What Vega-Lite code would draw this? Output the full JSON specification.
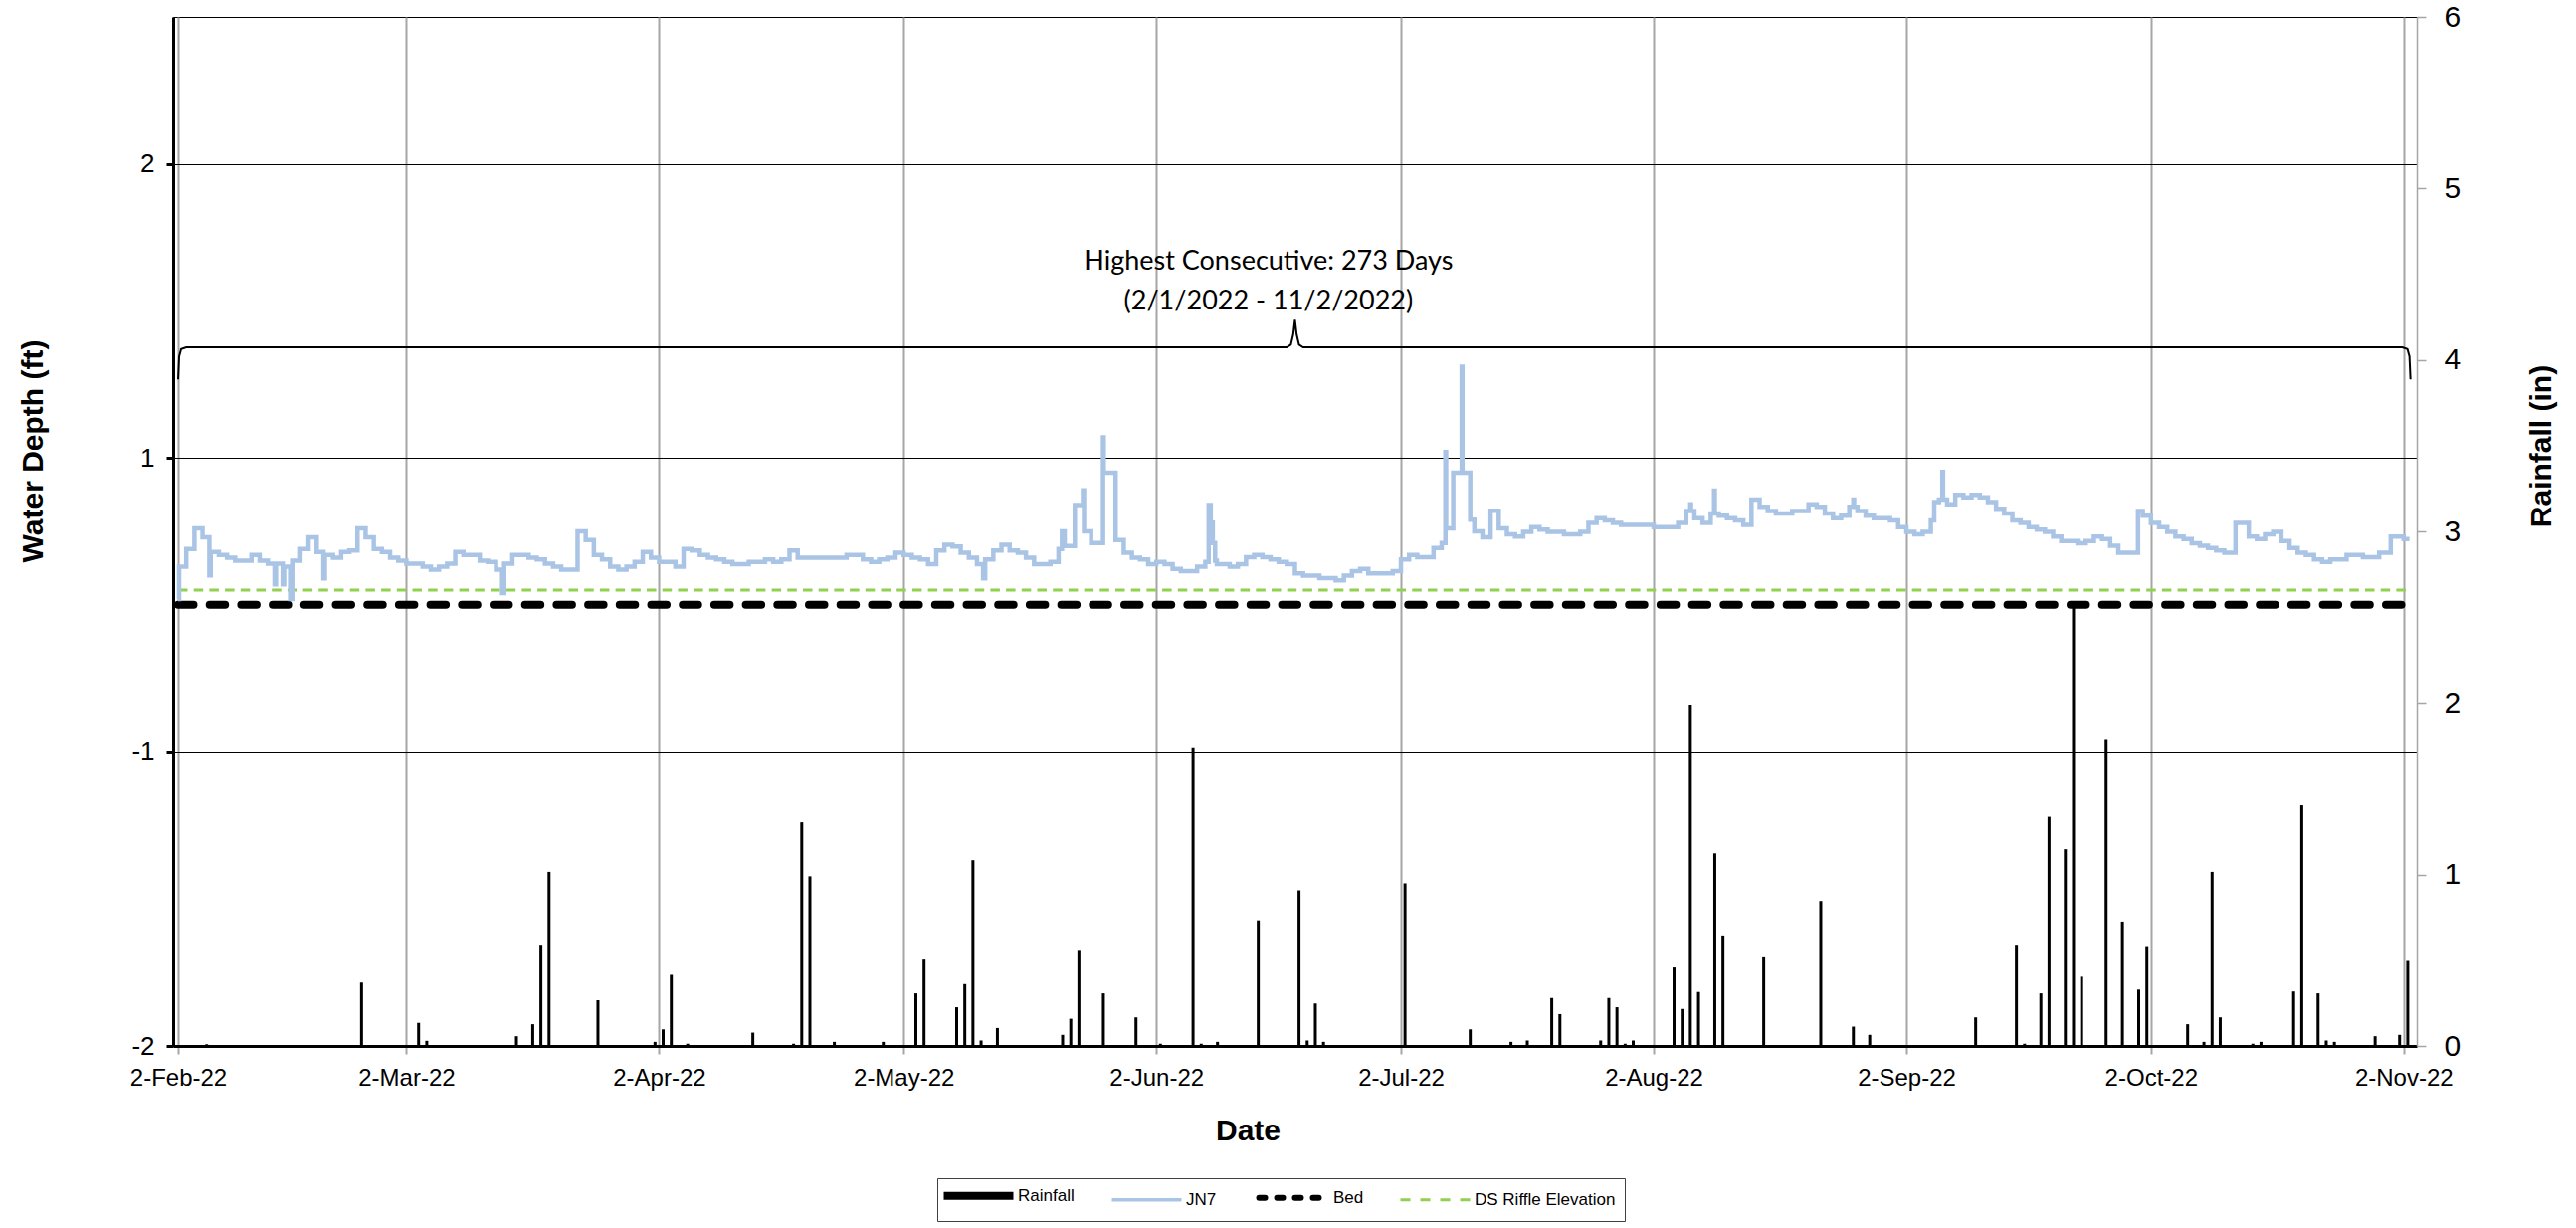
{
  "$schema": "https://vega.github.io/schema/vega-lite/v6.json",
  "width": 2255,
  "height": 1034,
  "autosize": {"type": "none"},
  "padding": {"left": 174, "top": 17, "right": 160, "bottom": 183},
  "background": "white",
  "config": {
    "view": {"stroke": "black", "strokeWidth": 1},
    "font": "Liberation Sans"
  },
  "datasets": {
    "rain": [
      {"date": "2022-02-05T12:00:00", "rain": 0.01},
      {"date": "2022-02-24T12:00:00", "rain": 0.37},
      {"date": "2022-03-03T12:00:00", "rain": 0.135},
      {"date": "2022-03-04T12:00:00", "rain": 0.03},
      {"date": "2022-03-15T12:00:00", "rain": 0.057},
      {"date": "2022-03-16T12:00:00", "rain": 0.005},
      {"date": "2022-03-17T12:00:00", "rain": 0.127},
      {"date": "2022-03-18T12:00:00", "rain": 0.585},
      {"date": "2022-03-19T12:00:00", "rain": 1.016},
      {"date": "2022-03-22T12:00:00", "rain": 0.005},
      {"date": "2022-03-25T12:00:00", "rain": 0.267},
      {"date": "2022-04-01T12:00:00", "rain": 0.024},
      {"date": "2022-04-02T12:00:00", "rain": 0.097},
      {"date": "2022-04-03T12:00:00", "rain": 0.415},
      {"date": "2022-04-05T12:00:00", "rain": 0.013},
      {"date": "2022-04-13T12:00:00", "rain": 0.078},
      {"date": "2022-04-18T12:00:00", "rain": 0.013},
      {"date": "2022-04-19T12:00:00", "rain": 1.305},
      {"date": "2022-04-20T12:00:00", "rain": 0.99},
      {"date": "2022-04-23T12:00:00", "rain": 0.024},
      {"date": "2022-04-29T12:00:00", "rain": 0.024},
      {"date": "2022-05-03T12:00:00", "rain": 0.307},
      {"date": "2022-05-04T12:00:00", "rain": 0.504},
      {"date": "2022-05-08T12:00:00", "rain": 0.226},
      {"date": "2022-05-09T12:00:00", "rain": 0.361},
      {"date": "2022-05-10T12:00:00", "rain": 1.084},
      {"date": "2022-05-11T12:00:00", "rain": 0.032},
      {"date": "2022-05-12T12:00:00", "rain": 0.005},
      {"date": "2022-05-13T12:00:00", "rain": 0.105},
      {"date": "2022-05-21T12:00:00", "rain": 0.065},
      {"date": "2022-05-22T12:00:00", "rain": 0.159},
      {"date": "2022-05-23T12:00:00", "rain": 0.555},
      {"date": "2022-05-26T12:00:00", "rain": 0.307},
      {"date": "2022-05-30T12:00:00", "rain": 0.167},
      {"date": "2022-06-02T12:00:00", "rain": 0.013},
      {"date": "2022-06-06T12:00:00", "rain": 1.736},
      {"date": "2022-06-07T12:00:00", "rain": 0.013},
      {"date": "2022-06-09T12:00:00", "rain": 0.024},
      {"date": "2022-06-14T12:00:00", "rain": 0.733},
      {"date": "2022-06-15T12:00:00", "rain": 0.005},
      {"date": "2022-06-19T12:00:00", "rain": 0.908},
      {"date": "2022-06-20T12:00:00", "rain": 0.032},
      {"date": "2022-06-21T12:00:00", "rain": 0.248},
      {"date": "2022-06-22T12:00:00", "rain": 0.024},
      {"date": "2022-06-30T12:00:00", "rain": 0.005},
      {"date": "2022-07-02T12:00:00", "rain": 0.949},
      {"date": "2022-07-10T12:00:00", "rain": 0.097},
      {"date": "2022-07-14T12:00:00", "rain": 0.005},
      {"date": "2022-07-15T12:00:00", "rain": 0.024},
      {"date": "2022-07-17T12:00:00", "rain": 0.032},
      {"date": "2022-07-20T12:00:00", "rain": 0.28},
      {"date": "2022-07-21T12:00:00", "rain": 0.186},
      {"date": "2022-07-26T12:00:00", "rain": 0.032},
      {"date": "2022-07-27T12:00:00", "rain": 0.28},
      {"date": "2022-07-28T12:00:00", "rain": 0.226},
      {"date": "2022-07-29T12:00:00", "rain": 0.013},
      {"date": "2022-07-30T12:00:00", "rain": 0.032},
      {"date": "2022-08-04T12:00:00", "rain": 0.458},
      {"date": "2022-08-05T12:00:00", "rain": 0.216},
      {"date": "2022-08-06T12:00:00", "rain": 1.99},
      {"date": "2022-08-07T12:00:00", "rain": 0.315},
      {"date": "2022-08-09T12:00:00", "rain": 1.124},
      {"date": "2022-08-10T12:00:00", "rain": 0.639},
      {"date": "2022-08-15T12:00:00", "rain": 0.517},
      {"date": "2022-08-16T12:00:00", "rain": 0.005},
      {"date": "2022-08-21T12:00:00", "rain": 0.005},
      {"date": "2022-08-22T12:00:00", "rain": 0.846},
      {"date": "2022-08-26T12:00:00", "rain": 0.113},
      {"date": "2022-08-28T12:00:00", "rain": 0.065},
      {"date": "2022-09-09T12:00:00", "rain": 0.005},
      {"date": "2022-09-10T12:00:00", "rain": 0.167},
      {"date": "2022-09-15T12:00:00", "rain": 0.585},
      {"date": "2022-09-16T12:00:00", "rain": 0.013},
      {"date": "2022-09-18T12:00:00", "rain": 0.307},
      {"date": "2022-09-19T12:00:00", "rain": 1.337},
      {"date": "2022-09-21T12:00:00", "rain": 1.148},
      {"date": "2022-09-22T12:00:00", "rain": 2.593},
      {"date": "2022-09-23T12:00:00", "rain": 0.404},
      {"date": "2022-09-26T12:00:00", "rain": 1.784},
      {"date": "2022-09-28T12:00:00", "rain": 0.72},
      {"date": "2022-09-30T12:00:00", "rain": 0.329},
      {"date": "2022-10-01T12:00:00", "rain": 0.577},
      {"date": "2022-10-06T12:00:00", "rain": 0.127},
      {"date": "2022-10-08T12:00:00", "rain": 0.024},
      {"date": "2022-10-09T12:00:00", "rain": 1.016},
      {"date": "2022-10-10T12:00:00", "rain": 0.167},
      {"date": "2022-10-12T12:00:00", "rain": 0.005},
      {"date": "2022-10-14T12:00:00", "rain": 0.013},
      {"date": "2022-10-15T12:00:00", "rain": 0.024},
      {"date": "2022-10-19T12:00:00", "rain": 0.318},
      {"date": "2022-10-20T12:00:00", "rain": 1.404},
      {"date": "2022-10-22T12:00:00", "rain": 0.307},
      {"date": "2022-10-23T12:00:00", "rain": 0.032},
      {"date": "2022-10-24T12:00:00", "rain": 0.024},
      {"date": "2022-10-29T12:00:00", "rain": 0.057},
      {"date": "2022-10-31T12:00:00", "rain": 0.005},
      {"date": "2022-11-01T12:00:00", "rain": 0.065},
      {"date": "2022-11-02T12:00:00", "rain": 0.496}
    ],
    "jn7": [
      {"date": "2022-02-02T00:00:00", "ft": 0.02},
      {"date": "2022-02-02T03:00:00", "ft": 0.13},
      {"date": "2022-02-03T00:00:00", "ft": 0.19},
      {"date": "2022-02-04T00:00:00", "ft": 0.26},
      {"date": "2022-02-05T00:00:00", "ft": 0.23},
      {"date": "2022-02-05T20:00:00", "ft": 0.10},
      {"date": "2022-02-06T00:00:00", "ft": 0.18},
      {"date": "2022-02-07T00:00:00", "ft": 0.17},
      {"date": "2022-02-08T00:00:00", "ft": 0.16},
      {"date": "2022-02-09T00:00:00", "ft": 0.15},
      {"date": "2022-02-10T00:00:00", "ft": 0.15},
      {"date": "2022-02-11T00:00:00", "ft": 0.17},
      {"date": "2022-02-12T00:00:00", "ft": 0.15},
      {"date": "2022-02-13T00:00:00", "ft": 0.14},
      {"date": "2022-02-13T20:00:00", "ft": 0.07},
      {"date": "2022-02-14T00:00:00", "ft": 0.14},
      {"date": "2022-02-14T20:00:00", "ft": 0.07},
      {"date": "2022-02-15T00:00:00", "ft": 0.13},
      {"date": "2022-02-15T18:00:00", "ft": 0.02},
      {"date": "2022-02-16T00:00:00", "ft": 0.15},
      {"date": "2022-02-17T00:00:00", "ft": 0.19},
      {"date": "2022-02-18T00:00:00", "ft": 0.23},
      {"date": "2022-02-19T00:00:00", "ft": 0.18},
      {"date": "2022-02-19T20:00:00", "ft": 0.09},
      {"date": "2022-02-20T00:00:00", "ft": 0.17},
      {"date": "2022-02-21T00:00:00", "ft": 0.16},
      {"date": "2022-02-22T00:00:00", "ft": 0.18},
      {"date": "2022-02-23T00:00:00", "ft": 0.185},
      {"date": "2022-02-24T00:00:00", "ft": 0.26},
      {"date": "2022-02-25T00:00:00", "ft": 0.23},
      {"date": "2022-02-26T00:00:00", "ft": 0.19},
      {"date": "2022-02-27T00:00:00", "ft": 0.18},
      {"date": "2022-02-28T00:00:00", "ft": 0.16},
      {"date": "2022-03-01T00:00:00", "ft": 0.15},
      {"date": "2022-03-02T00:00:00", "ft": 0.14},
      {"date": "2022-03-03T00:00:00", "ft": 0.14},
      {"date": "2022-03-04T00:00:00", "ft": 0.13},
      {"date": "2022-03-05T00:00:00", "ft": 0.12},
      {"date": "2022-03-06T00:00:00", "ft": 0.13},
      {"date": "2022-03-07T00:00:00", "ft": 0.14},
      {"date": "2022-03-08T00:00:00", "ft": 0.18},
      {"date": "2022-03-09T00:00:00", "ft": 0.17},
      {"date": "2022-03-10T00:00:00", "ft": 0.17},
      {"date": "2022-03-11T00:00:00", "ft": 0.15},
      {"date": "2022-03-12T00:00:00", "ft": 0.146},
      {"date": "2022-03-13T00:00:00", "ft": 0.12},
      {"date": "2022-03-13T18:00:00", "ft": 0.04},
      {"date": "2022-03-14T00:00:00", "ft": 0.14},
      {"date": "2022-03-15T00:00:00", "ft": 0.17},
      {"date": "2022-03-16T00:00:00", "ft": 0.17},
      {"date": "2022-03-17T00:00:00", "ft": 0.16},
      {"date": "2022-03-18T00:00:00", "ft": 0.154},
      {"date": "2022-03-19T00:00:00", "ft": 0.14},
      {"date": "2022-03-20T00:00:00", "ft": 0.13},
      {"date": "2022-03-21T00:00:00", "ft": 0.12},
      {"date": "2022-03-22T00:00:00", "ft": 0.12},
      {"date": "2022-03-23T00:00:00", "ft": 0.25},
      {"date": "2022-03-24T00:00:00", "ft": 0.22},
      {"date": "2022-03-25T00:00:00", "ft": 0.17},
      {"date": "2022-03-26T00:00:00", "ft": 0.154},
      {"date": "2022-03-27T00:00:00", "ft": 0.13},
      {"date": "2022-03-28T00:00:00", "ft": 0.12},
      {"date": "2022-03-29T00:00:00", "ft": 0.13},
      {"date": "2022-03-30T00:00:00", "ft": 0.146},
      {"date": "2022-03-31T00:00:00", "ft": 0.18},
      {"date": "2022-04-01T00:00:00", "ft": 0.16},
      {"date": "2022-04-02T00:00:00", "ft": 0.146},
      {"date": "2022-04-03T00:00:00", "ft": 0.146},
      {"date": "2022-04-04T00:00:00", "ft": 0.13},
      {"date": "2022-04-05T00:00:00", "ft": 0.19},
      {"date": "2022-04-06T00:00:00", "ft": 0.185},
      {"date": "2022-04-07T00:00:00", "ft": 0.17},
      {"date": "2022-04-08T00:00:00", "ft": 0.16},
      {"date": "2022-04-09T00:00:00", "ft": 0.154},
      {"date": "2022-04-10T00:00:00", "ft": 0.146},
      {"date": "2022-04-11T00:00:00", "ft": 0.138},
      {"date": "2022-04-12T00:00:00", "ft": 0.138},
      {"date": "2022-04-13T00:00:00", "ft": 0.146},
      {"date": "2022-04-14T00:00:00", "ft": 0.146},
      {"date": "2022-04-15T00:00:00", "ft": 0.154},
      {"date": "2022-04-16T00:00:00", "ft": 0.146},
      {"date": "2022-04-17T00:00:00", "ft": 0.154},
      {"date": "2022-04-18T00:00:00", "ft": 0.185},
      {"date": "2022-04-19T00:00:00", "ft": 0.16},
      {"date": "2022-04-20T00:00:00", "ft": 0.16},
      {"date": "2022-04-21T00:00:00", "ft": 0.16},
      {"date": "2022-04-22T00:00:00", "ft": 0.16},
      {"date": "2022-04-23T00:00:00", "ft": 0.16},
      {"date": "2022-04-24T00:00:00", "ft": 0.16},
      {"date": "2022-04-25T00:00:00", "ft": 0.17},
      {"date": "2022-04-26T00:00:00", "ft": 0.17},
      {"date": "2022-04-27T00:00:00", "ft": 0.154},
      {"date": "2022-04-28T00:00:00", "ft": 0.146},
      {"date": "2022-04-29T00:00:00", "ft": 0.154},
      {"date": "2022-04-30T00:00:00", "ft": 0.16},
      {"date": "2022-05-01T00:00:00", "ft": 0.177},
      {"date": "2022-05-02T00:00:00", "ft": 0.17},
      {"date": "2022-05-03T00:00:00", "ft": 0.16},
      {"date": "2022-05-04T00:00:00", "ft": 0.154},
      {"date": "2022-05-05T00:00:00", "ft": 0.138},
      {"date": "2022-05-06T00:00:00", "ft": 0.185},
      {"date": "2022-05-07T00:00:00", "ft": 0.204},
      {"date": "2022-05-08T00:00:00", "ft": 0.198},
      {"date": "2022-05-09T00:00:00", "ft": 0.177},
      {"date": "2022-05-10T00:00:00", "ft": 0.16},
      {"date": "2022-05-11T00:00:00", "ft": 0.138},
      {"date": "2022-05-11T18:00:00", "ft": 0.09},
      {"date": "2022-05-12T00:00:00", "ft": 0.154},
      {"date": "2022-05-13T00:00:00", "ft": 0.185},
      {"date": "2022-05-14T00:00:00", "ft": 0.204},
      {"date": "2022-05-15T00:00:00", "ft": 0.185},
      {"date": "2022-05-16T00:00:00", "ft": 0.177},
      {"date": "2022-05-17T00:00:00", "ft": 0.16},
      {"date": "2022-05-18T00:00:00", "ft": 0.138},
      {"date": "2022-05-19T00:00:00", "ft": 0.138},
      {"date": "2022-05-20T00:00:00", "ft": 0.146},
      {"date": "2022-05-21T00:00:00", "ft": 0.19},
      {"date": "2022-05-21T10:00:00", "ft": 0.25},
      {"date": "2022-05-21T18:00:00", "ft": 0.2},
      {"date": "2022-05-22T00:00:00", "ft": 0.2},
      {"date": "2022-05-23T00:00:00", "ft": 0.34},
      {"date": "2022-05-24T00:00:00", "ft": 0.39},
      {"date": "2022-05-24T03:00:00", "ft": 0.25},
      {"date": "2022-05-25T00:00:00", "ft": 0.21},
      {"date": "2022-05-26T00:00:00", "ft": 0.21},
      {"date": "2022-05-26T11:00:00", "ft": 0.57},
      {"date": "2022-05-26T13:00:00", "ft": 0.45},
      {"date": "2022-05-27T00:00:00", "ft": 0.45},
      {"date": "2022-05-28T00:00:00", "ft": 0.22},
      {"date": "2022-05-29T00:00:00", "ft": 0.177},
      {"date": "2022-05-30T00:00:00", "ft": 0.16},
      {"date": "2022-05-31T00:00:00", "ft": 0.154},
      {"date": "2022-06-01T00:00:00", "ft": 0.138},
      {"date": "2022-06-02T00:00:00", "ft": 0.146},
      {"date": "2022-06-03T00:00:00", "ft": 0.138},
      {"date": "2022-06-04T00:00:00", "ft": 0.122},
      {"date": "2022-06-05T00:00:00", "ft": 0.115},
      {"date": "2022-06-06T00:00:00", "ft": 0.115},
      {"date": "2022-06-07T00:00:00", "ft": 0.13},
      {"date": "2022-06-08T00:00:00", "ft": 0.146},
      {"date": "2022-06-08T10:00:00", "ft": 0.34},
      {"date": "2022-06-08T16:00:00", "ft": 0.28},
      {"date": "2022-06-08T22:00:00", "ft": 0.21},
      {"date": "2022-06-09T05:00:00", "ft": 0.15},
      {"date": "2022-06-09T10:00:00", "ft": 0.138},
      {"date": "2022-06-10T00:00:00", "ft": 0.138},
      {"date": "2022-06-11T00:00:00", "ft": 0.13},
      {"date": "2022-06-12T00:00:00", "ft": 0.138},
      {"date": "2022-06-13T00:00:00", "ft": 0.162},
      {"date": "2022-06-14T00:00:00", "ft": 0.17},
      {"date": "2022-06-15T00:00:00", "ft": 0.162},
      {"date": "2022-06-16T00:00:00", "ft": 0.154},
      {"date": "2022-06-17T00:00:00", "ft": 0.146},
      {"date": "2022-06-18T00:00:00", "ft": 0.138},
      {"date": "2022-06-19T00:00:00", "ft": 0.107},
      {"date": "2022-06-20T00:00:00", "ft": 0.099},
      {"date": "2022-06-21T00:00:00", "ft": 0.099},
      {"date": "2022-06-22T00:00:00", "ft": 0.091},
      {"date": "2022-06-23T00:00:00", "ft": 0.091},
      {"date": "2022-06-24T00:00:00", "ft": 0.083},
      {"date": "2022-06-25T00:00:00", "ft": 0.099},
      {"date": "2022-06-26T00:00:00", "ft": 0.115},
      {"date": "2022-06-27T00:00:00", "ft": 0.122},
      {"date": "2022-06-28T00:00:00", "ft": 0.107},
      {"date": "2022-06-29T00:00:00", "ft": 0.107},
      {"date": "2022-06-30T00:00:00", "ft": 0.107},
      {"date": "2022-07-01T00:00:00", "ft": 0.115},
      {"date": "2022-07-02T00:00:00", "ft": 0.154},
      {"date": "2022-07-03T00:00:00", "ft": 0.17},
      {"date": "2022-07-04T00:00:00", "ft": 0.162},
      {"date": "2022-07-05T00:00:00", "ft": 0.162},
      {"date": "2022-07-06T00:00:00", "ft": 0.193},
      {"date": "2022-07-07T00:00:00", "ft": 0.21},
      {"date": "2022-07-07T11:00:00", "ft": 0.52},
      {"date": "2022-07-07T13:00:00", "ft": 0.26},
      {"date": "2022-07-08T00:00:00", "ft": 0.26},
      {"date": "2022-07-08T10:00:00", "ft": 0.45},
      {"date": "2022-07-09T00:00:00", "ft": 0.45},
      {"date": "2022-07-09T11:00:00", "ft": 0.81},
      {"date": "2022-07-09T13:00:00", "ft": 0.45},
      {"date": "2022-07-10T12:00:00", "ft": 0.29},
      {"date": "2022-07-11T00:00:00", "ft": 0.25},
      {"date": "2022-07-12T00:00:00", "ft": 0.23},
      {"date": "2022-07-13T00:00:00", "ft": 0.32},
      {"date": "2022-07-14T00:00:00", "ft": 0.26},
      {"date": "2022-07-15T00:00:00", "ft": 0.24},
      {"date": "2022-07-16T00:00:00", "ft": 0.232},
      {"date": "2022-07-17T00:00:00", "ft": 0.248},
      {"date": "2022-07-18T00:00:00", "ft": 0.264},
      {"date": "2022-07-19T00:00:00", "ft": 0.256},
      {"date": "2022-07-20T00:00:00", "ft": 0.248},
      {"date": "2022-07-21T00:00:00", "ft": 0.248},
      {"date": "2022-07-22T00:00:00", "ft": 0.24},
      {"date": "2022-07-23T00:00:00", "ft": 0.24},
      {"date": "2022-07-24T00:00:00", "ft": 0.248},
      {"date": "2022-07-25T00:00:00", "ft": 0.279},
      {"date": "2022-07-26T00:00:00", "ft": 0.295},
      {"date": "2022-07-27T00:00:00", "ft": 0.287},
      {"date": "2022-07-28T00:00:00", "ft": 0.279},
      {"date": "2022-07-29T00:00:00", "ft": 0.272},
      {"date": "2022-07-30T00:00:00", "ft": 0.272},
      {"date": "2022-07-31T00:00:00", "ft": 0.272},
      {"date": "2022-08-01T00:00:00", "ft": 0.272},
      {"date": "2022-08-02T00:00:00", "ft": 0.264},
      {"date": "2022-08-03T00:00:00", "ft": 0.264},
      {"date": "2022-08-04T00:00:00", "ft": 0.264},
      {"date": "2022-08-05T00:00:00", "ft": 0.279},
      {"date": "2022-08-06T00:00:00", "ft": 0.319},
      {"date": "2022-08-06T12:00:00", "ft": 0.342},
      {"date": "2022-08-06T14:00:00", "ft": 0.319},
      {"date": "2022-08-07T00:00:00", "ft": 0.295},
      {"date": "2022-08-08T00:00:00", "ft": 0.279},
      {"date": "2022-08-09T00:00:00", "ft": 0.311},
      {"date": "2022-08-09T10:00:00", "ft": 0.389},
      {"date": "2022-08-09T12:00:00", "ft": 0.311},
      {"date": "2022-08-10T00:00:00", "ft": 0.303},
      {"date": "2022-08-11T00:00:00", "ft": 0.295},
      {"date": "2022-08-12T00:00:00", "ft": 0.287},
      {"date": "2022-08-13T00:00:00", "ft": 0.272},
      {"date": "2022-08-14T00:00:00", "ft": 0.358},
      {"date": "2022-08-15T00:00:00", "ft": 0.334},
      {"date": "2022-08-16T00:00:00", "ft": 0.319},
      {"date": "2022-08-17T00:00:00", "ft": 0.311},
      {"date": "2022-08-18T00:00:00", "ft": 0.311},
      {"date": "2022-08-19T00:00:00", "ft": 0.319},
      {"date": "2022-08-20T00:00:00", "ft": 0.319},
      {"date": "2022-08-21T00:00:00", "ft": 0.342},
      {"date": "2022-08-22T00:00:00", "ft": 0.334},
      {"date": "2022-08-23T00:00:00", "ft": 0.311},
      {"date": "2022-08-24T00:00:00", "ft": 0.295},
      {"date": "2022-08-25T00:00:00", "ft": 0.303},
      {"date": "2022-08-26T00:00:00", "ft": 0.334},
      {"date": "2022-08-26T12:00:00", "ft": 0.358},
      {"date": "2022-08-26T14:00:00", "ft": 0.334},
      {"date": "2022-08-27T00:00:00", "ft": 0.319},
      {"date": "2022-08-28T00:00:00", "ft": 0.303},
      {"date": "2022-08-29T00:00:00", "ft": 0.295},
      {"date": "2022-08-30T00:00:00", "ft": 0.295},
      {"date": "2022-08-31T00:00:00", "ft": 0.287},
      {"date": "2022-09-01T00:00:00", "ft": 0.264},
      {"date": "2022-09-02T00:00:00", "ft": 0.248},
      {"date": "2022-09-03T00:00:00", "ft": 0.24},
      {"date": "2022-09-04T00:00:00", "ft": 0.248},
      {"date": "2022-09-05T00:00:00", "ft": 0.287},
      {"date": "2022-09-05T10:00:00", "ft": 0.35},
      {"date": "2022-09-06T00:00:00", "ft": 0.358},
      {"date": "2022-09-06T10:00:00", "ft": 0.452},
      {"date": "2022-09-06T12:00:00", "ft": 0.358},
      {"date": "2022-09-07T00:00:00", "ft": 0.342},
      {"date": "2022-09-08T00:00:00", "ft": 0.374},
      {"date": "2022-09-09T00:00:00", "ft": 0.366},
      {"date": "2022-09-10T00:00:00", "ft": 0.374},
      {"date": "2022-09-11T00:00:00", "ft": 0.366},
      {"date": "2022-09-12T00:00:00", "ft": 0.35},
      {"date": "2022-09-13T00:00:00", "ft": 0.327},
      {"date": "2022-09-14T00:00:00", "ft": 0.311},
      {"date": "2022-09-15T00:00:00", "ft": 0.287},
      {"date": "2022-09-16T00:00:00", "ft": 0.279},
      {"date": "2022-09-17T00:00:00", "ft": 0.264},
      {"date": "2022-09-18T00:00:00", "ft": 0.256},
      {"date": "2022-09-19T00:00:00", "ft": 0.248},
      {"date": "2022-09-20T00:00:00", "ft": 0.232},
      {"date": "2022-09-21T00:00:00", "ft": 0.217},
      {"date": "2022-09-22T00:00:00", "ft": 0.217},
      {"date": "2022-09-23T00:00:00", "ft": 0.209},
      {"date": "2022-09-24T00:00:00", "ft": 0.217},
      {"date": "2022-09-25T00:00:00", "ft": 0.232},
      {"date": "2022-09-26T00:00:00", "ft": 0.224},
      {"date": "2022-09-27T00:00:00", "ft": 0.201},
      {"date": "2022-09-28T00:00:00", "ft": 0.177},
      {"date": "2022-09-29T00:00:00", "ft": 0.177},
      {"date": "2022-09-30T00:00:00", "ft": 0.177},
      {"date": "2022-09-30T10:00:00", "ft": 0.319},
      {"date": "2022-10-01T00:00:00", "ft": 0.303},
      {"date": "2022-10-02T00:00:00", "ft": 0.279},
      {"date": "2022-10-03T00:00:00", "ft": 0.264},
      {"date": "2022-10-04T00:00:00", "ft": 0.248},
      {"date": "2022-10-05T00:00:00", "ft": 0.232},
      {"date": "2022-10-06T00:00:00", "ft": 0.224},
      {"date": "2022-10-07T00:00:00", "ft": 0.209},
      {"date": "2022-10-08T00:00:00", "ft": 0.201},
      {"date": "2022-10-09T00:00:00", "ft": 0.193},
      {"date": "2022-10-10T00:00:00", "ft": 0.185},
      {"date": "2022-10-11T00:00:00", "ft": 0.177},
      {"date": "2022-10-12T00:00:00", "ft": 0.177},
      {"date": "2022-10-12T09:00:00", "ft": 0.279},
      {"date": "2022-10-13T00:00:00", "ft": 0.279},
      {"date": "2022-10-14T00:00:00", "ft": 0.232},
      {"date": "2022-10-15T00:00:00", "ft": 0.224},
      {"date": "2022-10-16T00:00:00", "ft": 0.24},
      {"date": "2022-10-17T00:00:00", "ft": 0.248},
      {"date": "2022-10-18T00:00:00", "ft": 0.217},
      {"date": "2022-10-19T00:00:00", "ft": 0.193},
      {"date": "2022-10-20T00:00:00", "ft": 0.177},
      {"date": "2022-10-21T00:00:00", "ft": 0.17},
      {"date": "2022-10-22T00:00:00", "ft": 0.154},
      {"date": "2022-10-23T00:00:00", "ft": 0.146},
      {"date": "2022-10-24T00:00:00", "ft": 0.154},
      {"date": "2022-10-25T00:00:00", "ft": 0.154},
      {"date": "2022-10-26T00:00:00", "ft": 0.17},
      {"date": "2022-10-27T00:00:00", "ft": 0.17},
      {"date": "2022-10-28T00:00:00", "ft": 0.162},
      {"date": "2022-10-29T00:00:00", "ft": 0.162},
      {"date": "2022-10-30T00:00:00", "ft": 0.177},
      {"date": "2022-10-31T00:00:00", "ft": 0.177},
      {"date": "2022-10-31T10:00:00", "ft": 0.232},
      {"date": "2022-11-01T00:00:00", "ft": 0.232},
      {"date": "2022-11-02T00:00:00", "ft": 0.224},
      {"date": "2022-11-02T17:00:00", "ft": 0.224}
    ],
    "bed": [
      {"date": "2022-02-02T00:00:00", "ft": 0},
      {"date": "2022-11-02T23:00:00", "ft": 0}
    ],
    "riffle": [
      {"date": "2022-02-02T00:00:00", "ft": 0.05},
      {"date": "2022-11-02T23:00:00", "ft": 0.05}
    ],
    "brace": [
      {"date": "2022-02-02T00:00:00", "ft": 0.767},
      {"date": "2022-02-02T03:00:00", "ft": 0.845},
      {"date": "2022-02-02T09:00:00", "ft": 0.870},
      {"date": "2022-02-03T00:00:00", "ft": 0.876},
      {"date": "2022-06-18T00:00:00", "ft": 0.876},
      {"date": "2022-06-18T12:00:00", "ft": 0.885},
      {"date": "2022-06-18T19:00:00", "ft": 0.92},
      {"date": "2022-06-19T00:00:00", "ft": 0.97},
      {"date": "2022-06-19T05:00:00", "ft": 0.92},
      {"date": "2022-06-19T12:00:00", "ft": 0.885},
      {"date": "2022-06-20T00:00:00", "ft": 0.876},
      {"date": "2022-11-01T20:00:00", "ft": 0.876},
      {"date": "2022-11-02T11:00:00", "ft": 0.870},
      {"date": "2022-11-02T17:00:00", "ft": 0.845},
      {"date": "2022-11-02T20:00:00", "ft": 0.767}
    ],
    "note": [
      {"date": "2022-06-15T18:00:00", "ft": 1.169}
    ]
  },
  "encoding": {
    "x": {
      "field": "date",
      "type": "temporal",
      "scale": {"domain": [{"year": 2022, "month": 2, "date": 2}, {"year": 2022, "month": 11, "date": 3}]},
      "axis": {
        "values": [
          {"year": 2022, "month": 2, "date": 2},
          {"year": 2022, "month": 3, "date": 2},
          {"year": 2022, "month": 4, "date": 2},
          {"year": 2022, "month": 5, "date": 2},
          {"year": 2022, "month": 6, "date": 2},
          {"year": 2022, "month": 7, "date": 2},
          {"year": 2022, "month": 8, "date": 2},
          {"year": 2022, "month": 9, "date": 2},
          {"year": 2022, "month": 10, "date": 2},
          {"year": 2022, "month": 11, "date": 2}
        ],
        "format": "%-d-%b-%y",
        "labelFlush": false,
        "labelOverlap": false,
        "labelFont": "Liberation Sans",
        "labelFontSize": 24,
        "labelColor": "black",
        "labelPadding": 12,
        "tickColor": "#a6a6a6",
        "tickSize": 8,
        "tickWidth": 2,
        "domainColor": "black",
        "domainWidth": 3,
        "grid": true,
        "gridColor": "#a6a6a6",
        "gridWidth": 2,
        "title": "Date",
        "titleFont": "Liberation Sans",
        "titleFontSize": 30,
        "titleFontWeight": "bold",
        "titleColor": "black",
        "titleX": 1080,
        "titleY": 85,
        "titleAlign": "center",
        "titleBaseline": "middle"
      }
    }
  },
  "layer": [
    {
      "data": {"name": "rain"},
      "mark": {"type": "bar", "color": "black", "width": 3},
      "encoding": {
        "y": {
          "field": "rain",
          "type": "quantitative",
          "scale": {"domain": [0, 6], "nice": false},
          "axis": {
            "orient": "right",
            "values": [0, 1, 2, 3, 4, 5, 6],
            "grid": false,
            "domainColor": "#a6a6a6",
            "domainWidth": 1.5,
            "tickColor": "#a6a6a6",
            "tickSize": 9,
            "tickWidth": 1.5,
            "labelPadding": 18,
            "labelFont": "Liberation Sans",
            "labelFontSize": 30,
            "labelColor": "black",
            "title": "Rainfall (in)",
            "titleFont": "Liberation Sans",
            "titleFontSize": 30,
            "titleFontWeight": "bold",
            "titleColor": "black",
            "titleAngle": -90,
            "titleX": 125,
            "titleY": 431,
            "titleAlign": "center",
            "titleBaseline": "middle"
          }
        }
      }
    },
    {
      "encoding": {
        "y": {
          "field": "ft",
          "type": "quantitative",
          "scale": {"domain": [-1.5, 2], "nice": false, "zero": false},
          "axis": {
            "orient": "left",
            "values": [-1.5, -0.5, 0.5, 1.5],
            "labelExpr": "(datum.value > 0 ? '' : '-') + ceil(abs(datum.value))",
            "grid": true,
            "gridColor": "black",
            "gridWidth": 1,
            "domainColor": "black",
            "domainWidth": 3,
            "tickColor": "black",
            "tickWidth": 3,
            "tickSize": 7,
            "labelPadding": 12,
            "labelFont": "Liberation Sans",
            "labelFontSize": 26,
            "labelColor": "black",
            "title": "Water Depth (ft)",
            "titleFont": "Liberation Sans",
            "titleFontSize": 30,
            "titleFontWeight": "bold",
            "titleColor": "black",
            "titleAngle": -90,
            "titleX": -141,
            "titleY": 436,
            "titleAlign": "center",
            "titleBaseline": "middle"
          }
        }
      },
      "layer": [
        {
          "data": {"name": "riffle"},
          "mark": {"type": "line", "strokeWidth": 3, "strokeDash": [9.5, 6.2]},
          "encoding": {"color": {"datum": "DS Riffle Elevation", "type": "nominal"}}
        },
        {
          "data": {"name": "bed"},
          "mark": {"type": "line", "strokeWidth": 8, "strokeDash": [15.5, 16.2], "strokeCap": "round"},
          "encoding": {"color": {"datum": "Bed", "type": "nominal"}}
        },
        {
          "data": {"name": "jn7"},
          "mark": {"type": "line", "strokeWidth": 4.5, "interpolate": "step-after"},
          "encoding": {
            "color": {
              "datum": "JN7",
              "type": "nominal",
              "scale": {
                "domain": ["Rainfall", "JN7", "Bed", "DS Riffle Elevation"],
                "range": ["black", "#aac4e6", "black", "#92d050"]
              },
              "legend": {
                "title": null,
                "orient": "none",
                "legendX": 768,
                "legendY": 1167,
                "direction": "horizontal",
                "columns": 4,
                "symbolType": "stroke",
                "symbolSize": 4900,
                "symbolOffset": 24,
                "labelFont": "Liberation Sans",
                "labelFontSize": 17,
                "labelColor": "black",
                "labelOffset": 31,
                "columnPadding": 30,
                "padding": 9,
                "strokeColor": "#404040",
                "fillColor": "white",
                "encode": {
                  "symbols": {
                    "update": {
                      "strokeWidth": {"signal": "datum.value === 'Rainfall' ? 8 : datum.value === 'Bed' ? 6 : datum.value === 'JN7' ? 3.5 : 3"},
                      "strokeDash": {"signal": "datum.value === 'Bed' ? [6, 12] : datum.value === 'DS Riffle Elevation' ? [10, 10] : [1, 0]"},
                      "strokeCap": {"signal": "datum.value === 'Bed' ? 'round' : 'butt'"}
                    }
                  }
                }
              }
            }
          }
        },
        {
          "data": {"name": "brace"},
          "mark": {"type": "line", "color": "black", "strokeWidth": 2},
          "encoding": {}
        },
        {
          "data": {"name": "note"},
          "mark": {
            "type": "text",
            "text": ["Highest Consecutive: 273 Days", "(2/1/2022 - 11/2/2022)"],
            "font": "Lato",
            "fontSize": 27,
            "lineHeight": 40,
            "align": "center",
            "baseline": "middle",
            "color": "black"
          },
          "encoding": {}
        }
      ]
    }
  ],
  "resolve": {"scale": {"y": "independent"}}
}
